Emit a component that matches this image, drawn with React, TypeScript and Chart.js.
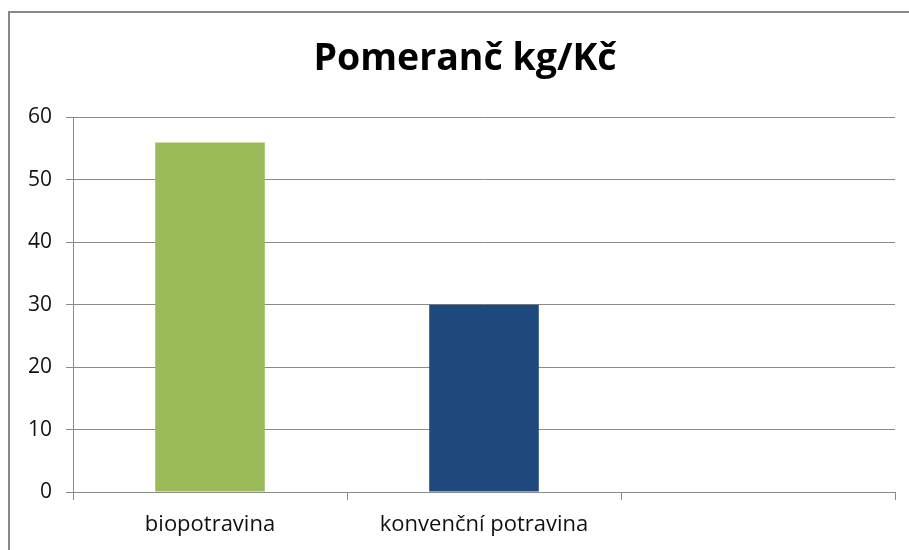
import React, { useEffect, useRef } from "react";
import { Chart, registerables } from "chart.js";

Chart.register(...registerables);

const TITLE = "Pomeranč kg/Kč";
const CATEGORIES = ["biopotravina", "konvenční potravina", ""];
const VALUES: (number | null)[] = [56, 30, null];
const BAR_COLORS = ["#9BBB59", "#1F497D", "#9BBB59"];
const Y_MIN = 0;
const Y_MAX = 60;
const Y_STEP = 10;

const titlePlugin = {
  id: "fixedTitle",
  afterDraw(chart: any) {
    const ctx = chart.ctx;
    ctx.save();
    ctx.fillStyle = "#000";
    ctx.font = "bold 37.5px 'Open Sans'";
    ctx.textAlign = "center";
    ctx.textBaseline = "alphabetic";
    ctx.fillText(TITLE, 455, 56.5);
    ctx.restore();
  },
};

export default function App() {
  const ref = useRef<HTMLCanvasElement>(null);
  useEffect(() => {
    document.documentElement.style.overflow = "hidden";
    document.body.style.overflow = "hidden";
    if (!ref.current) return;
    const chart = new Chart(ref.current, {
      type: "bar",
      data: {
        labels: CATEGORIES,
        datasets: [
          {
            data: VALUES,
            backgroundColor: BAR_COLORS,
            borderWidth: 0,
            barPercentage: 0.4,
            categoryPercentage: 1,
          },
        ],
      },
      plugins: [titlePlugin],
      options: {
        animation: false,
        responsive: false,
        layout: { padding: { left: 0, right: 35, top: 104.5, bottom: 0 } },
        plugins: {
          legend: { display: false },
          tooltip: { enabled: false },
          title: { display: false },
        },
        scales: {
          x: {
            grid: {
              display: true,
              drawOnChartArea: false,
              drawTicks: true,
              tickLength: 8,
              offset: true,
              color: "#8a8a8a",
            },
            border: { display: true, color: "#8a8a8a", width: 1 },
            ticks: {
              color: "#111",
              font: { family: "'Open Sans'", size: 22 },
              padding: 12,
              maxRotation: 0,
            },
            afterFit: (s: any) => {
              s.height = 58;
            },
          },
          y: {
            min: Y_MIN,
            max: Y_MAX,
            grid: {
              color: "#8a8a8a",
              tickLength: 7,
              drawTicks: true,
            },
            border: { display: true, color: "#8a8a8a", width: 1 },
            ticks: {
              stepSize: Y_STEP,
              color: "#111",
              font: { family: "'Open Sans'", size: 21 },
              padding: 14,
            },
            afterFit: (s: any) => {
              s.width = 63;
            },
          },
        },
      },
    });
    return () => chart.destroy();
  }, []);
  return (
    <div
      style={{
        position: "absolute",
        left: 8,
        top: 11,
        width: 920,
        height: 560,
        borderLeft: "2px solid #898989",
        borderTop: "2px solid #898989",
        background: "#fff",
        overflow: "hidden",
      }}
    >
      <canvas ref={ref} width={920} height={537} style={{ display: "block" }} />
    </div>
  );
}
